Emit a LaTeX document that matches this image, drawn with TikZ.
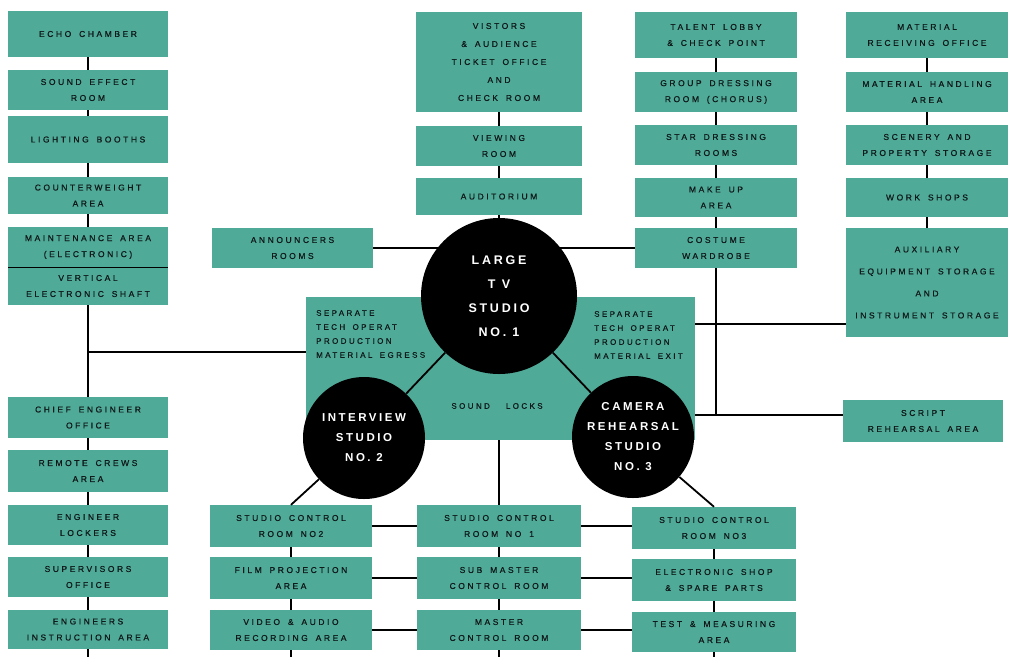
\documentclass[tikz,border=0pt]{standalone}
\usepackage{fontspec}
\setmainfont{Liberation Sans}
\newfontfamily\bxfont[LetterSpace=30,WordSpace=1.6,FakeBold=0.6]{Liberation Sans}
\newfontfamily\cfont[LetterSpace=22]{Liberation Sans}
\pgfdeclarelayer{bg}
\pgfsetlayers{bg,main}
\definecolor{tealbox}{RGB}{80,170,152}
\definecolor{ink}{RGB}{15,25,25}
\tikzset{
  box/.style={fill=tealbox, inner sep=0pt, align=center, text=ink,
    font=\bxfont\fontsize{8.5}{16}\selectfont},
  studio/.style={circle, fill=black, inner sep=0pt, align=center, text=white,
    font=\cfont\bfseries\fontsize{12.5}{24}\selectfont},
  plain/.style={inner sep=0pt, text=ink, font=\bxfont\fontsize{8}{14}\selectfont},
  conn/.style={line width=1.8pt, draw=black},
}
\newcommand\rbox[6][]{\node[box,#1, minimum width={(#5)-(#3)}, minimum height={(#6)-(#4)}] (#2) at ({((#3)+(#5))/2},{((#4)+(#6))/2})}
\begin{document}
\begin{tikzpicture}[x=1pt,y=-1pt]
\useasboundingbox (0,0) rectangle (1014,657);
\begin{pgfonlayer}{bg}
\fill[white] (0,0) rectangle (1014,657);
\end{pgfonlayer}
% left column
\rbox{echo}{8}{11}{168}{57} {ECHO CHAMBER};
\rbox{sfx}{8}{70}{168}{110} {SOUND EFFECT\\ROOM};
\rbox{light}{8}{116}{168}{163} {LIGHTING BOOTHS};
\rbox{counter}{8}{177}{168}{214} {COUNTERWEIGHT\\AREA};
\rbox{maint}{8}{227}{168}{267} {MAINTENANCE AREA\\(ELECTRONIC)};
\rbox{shaft}{8}{267}{168}{305} {VERTICAL\\ELECTRONIC SHAFT};
\rbox{chief}{8}{397}{168}{438} {CHIEF ENGINEER\\OFFICE};
\rbox{remote}{8}{450}{168}{492} {REMOTE CREWS\\AREA};
\rbox{lockers}{8}{505}{168}{545} {ENGINEER\\LOCKERS};
\rbox{super}{8}{557}{168}{597} {SUPERVISORS\\OFFICE};
\rbox{instr}{8}{610}{168}{649} {ENGINEERS\\INSTRUCTION AREA};
% top middle
\rbox[font=\bxfont\fontsize{8.5}{18}\selectfont]{vistors}{416}{12}{582}{112} {VISTORS\\\& AUDIENCE\\TICKET OFFICE\\AND\\CHECK ROOM};
\rbox{viewing}{416}{126}{582}{166} {VIEWING\\ROOM};
\rbox{audit}{416}{178}{582}{215} {AUDITORIUM};
\rbox{ann}{212}{228}{373}{268} {ANNOUNCERS\\ROOMS};
% talent column
\rbox{talent}{635}{12}{797}{58} {TALENT LOBBY\\\& CHECK POINT};
\rbox{group}{635}{72}{797}{112} {GROUP DRESSING\\ROOM (CHORUS)};
\rbox{star}{635}{125}{797}{165} {STAR DRESSING\\ROOMS};
\rbox{makeup}{635}{178}{797}{217} {MAKE UP\\AREA};
\rbox{costume}{635}{228}{797}{268} {COSTUME\\WARDROBE};
% material column
\rbox{matrec}{846}{12}{1008}{58} {MATERIAL\\RECEIVING OFFICE};
\rbox{mathand}{846}{72}{1008}{112} {MATERIAL HANDLING\\AREA};
\rbox{scenery}{846}{125}{1008}{165} {SCENERY AND\\PROPERTY STORAGE};
\rbox{works}{846}{178}{1008}{217} {WORK SHOPS};
\rbox[font=\bxfont\fontsize{8.5}{22}\selectfont]{aux}{846}{228}{1008}{337} {AUXILIARY\\EQUIPMENT STORAGE\\AND\\INSTRUMENT STORAGE};
\rbox{script}{843}{400}{1003}{442} {SCRIPT\\REHEARSAL AREA};
% central block
\rbox{sep}{306}{297}{695}{440} {};
\node[plain, anchor=west, align=left] (sepl) at (316,334) {SEPARATE\\TECH OPERAT\\PRODUCTION\\MATERIAL EGRESS};
\node[plain, anchor=west, align=left] (sepr) at (594,335) {SEPARATE\\TECH OPERAT\\PRODUCTION\\MATERIAL EXIT};
\node[plain] (locks) at (497,406) {SOUND\qquad LOCKS};
% bottom rows
\rbox{scrtwo}{210}{505}{372}{547} {STUDIO CONTROL\\ROOM NO2};
\rbox{film}{210}{557}{372}{599} {FILM PROJECTION\\AREA};
\rbox{video}{210}{610}{372}{650} {VIDEO \& AUDIO\\RECORDING AREA};
\rbox{scrone}{417}{505}{581}{547} {STUDIO CONTROL\\ROOM NO 1};
\rbox{submaster}{417}{557}{581}{599} {SUB MASTER\\CONTROL ROOM};
\rbox{master}{417}{610}{581}{650} {MASTER\\CONTROL ROOM};
\rbox{scrthree}{632}{507}{796}{549} {STUDIO CONTROL\\ROOM NO3};
\rbox{eshop}{632}{559}{796}{601} {ELECTRONIC SHOP\\\& SPARE PARTS};
\rbox{test}{632}{612}{796}{652} {TEST \& MEASURING\\AREA};
% studios
\node[studio, minimum size=156pt] (large) at (499,296) {LARGE\\T V\\STUDIO\\NO. 1};
\node[studio, minimum size=122pt, font=\cfont\bfseries\fontsize{11.5}{20}\selectfont] (interview) at (364,438) {INTERVIEW\\STUDIO\\NO. 2};
\node[studio, minimum size=122pt, font=\cfont\bfseries\fontsize{11.5}{20}\selectfont] (camera) at (633,437) {CAMERA\\REHEARSAL\\STUDIO\\NO. 3};
% helper coordinates
\coordinate (lj) at (88,352);
\coordinate (bot) at (0,657);
\coordinate (rj) at (716,415);
\coordinate (auxj) at (716,324);
\begin{pgfonlayer}{bg}
\draw[conn] (echo) -- (sfx) -- (light) -- (counter) -- (maint);
\draw[conn] (shaft.south) -- (chief.north);
\draw[conn] (lj) -- (sep.west |- lj);
\draw[conn] (chief) -- (remote) -- (lockers) -- (super) -- (instr);
\draw[conn] (instr.south) -- (instr.south |- bot);
\draw[conn] (vistors) -- (viewing) -- (audit) -- (large);
\draw[conn] (ann.east) -- (ann.east -| large.center) -- (costume.west);
\draw[conn] (talent) -- (group) -- (star) -- (makeup) -- (costume);
\draw[conn] (costume.south -| rj) -- (rj);
\draw[conn] (sep.east |- rj) -- (script.west |- rj);
\draw[conn] (sep.east |- auxj) -- (aux.west |- auxj);
\draw[conn] (matrec) -- (mathand) -- (scenery) -- (works) -- (aux);
\draw[conn] (sep.south -| scrone.north) -- (scrone.north);
\draw[conn] (scrtwo) -- (film) -- (video);
\draw[conn] (scrone) -- (submaster) -- (master);
\draw[conn] (scrthree) -- (eshop) -- (test);
\draw[conn] (video.south) -- (video.south |- bot);
\draw[conn] (master.south) -- (master.south |- bot);
\draw[conn] (test.south) -- (test.south |- bot);
\draw[conn] (scrtwo.east) -- (scrone.west);
\draw[conn] (scrone.east) -- (scrthree.west |- scrone.east);
\draw[conn] (film.east) -- (submaster.west);
\draw[conn] (submaster.east) -- (eshop.west |- submaster.east);
\draw[conn] (video.east) -- (master.west);
\draw[conn] (master.east) -- (test.west |- master.east);
\end{pgfonlayer}
\draw[line width=1.2pt] (maint.south west) -- (maint.south east);
\draw[conn] (large) -- (interview);
\draw[conn] (large) -- (camera);
\draw[conn] (interview) -- (scrtwo.north);
\draw[conn] (camera) -- (scrthree.north);
\end{tikzpicture}
\end{document}
